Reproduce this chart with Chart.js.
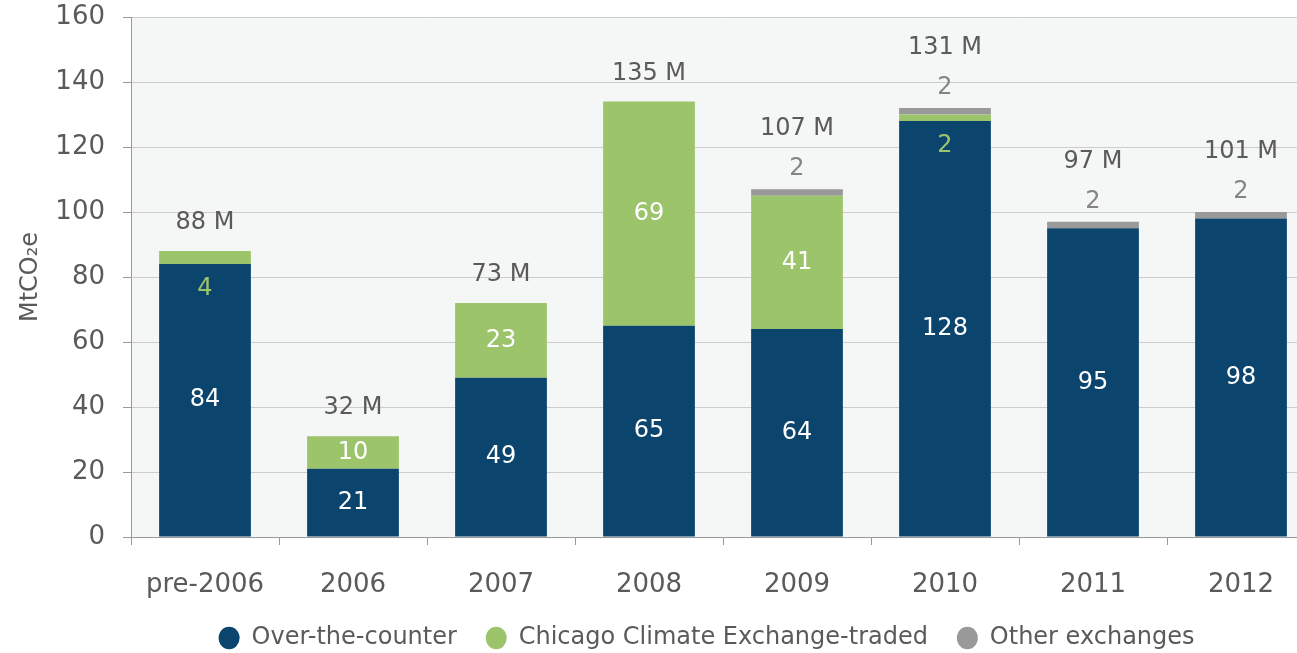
<!DOCTYPE html>
<html>
<head>
<meta charset="utf-8">
<script src="https://cdn.jsdelivr.net/npm/chart.js@4.4.0/dist/chart.umd.min.js"></script>
<style>
  html, body { margin: 0; padding: 0; background: #fff; overflow: hidden; }
  #wrap { width: 1297px; height: 653px; overflow: hidden; }
</style>
</head>
<body>
<div id="wrap"><canvas id="barChart" width="1315" height="653"></canvas></div>
<script>
"use strict";
// values
const categories = ["pre-2006", "2006", "2007", "2008", "2009", "2010", "2011", "2012"];
const overTheCounter = [84, 21, 49, 65, 64, 128, 95, 98];
const chicagoExchange = [4, 10, 23, 69, 41, 2, 0, 0];
const otherExchanges = [0, 0, 0, 0, 2, 2, 2, 2];
const totalLabels = ["88 M", "32 M", "73 M", "135 M", "107 M", "131 M", "97 M", "101 M"];
const yTicks = [0, 20, 40, 60, 80, 100, 120, 140, 160];

const BLUE = "#0b456d";
const GREEN = "#9cc46a";
const GREY = "#999999";
const TEXT = "#5a5a5a";
const FONT = "'DejaVu Sans', sans-serif";

// light grey plot background
const plotBg = {
  id: "plotBg",
  beforeDraw(chart) {
    const { ctx, chartArea: a } = chart;
    ctx.save();
    ctx.fillStyle = "#f5f6f6";
    ctx.fillRect(a.left, a.top, a.right - a.left, a.bottom - a.top);
    ctx.restore();
  },
};

// segment values and totals
const barLabels = {
  id: "barLabels",
  afterDatasetsDraw(chart) {
    const { ctx } = chart;
    const m0 = chart.getDatasetMeta(0).data;
    const m1 = chart.getDatasetMeta(1).data;
    const m2 = chart.getDatasetMeta(2).data;
    ctx.save();
    ctx.textAlign = "center";
    ctx.textBaseline = "middle";
    ctx.font = "24px " + FONT;
    categories.forEach((c, i) => {
      const x = m0[i].x;
      // over-the-counter
      ctx.fillStyle = "#ffffff";
      ctx.fillText(String(overTheCounter[i]), x, (m0[i].y + m0[i].base) / 2);
      // chicago
      if (chicagoExchange[i] > 0) {
        if (chicagoExchange[i] >= 10) {
          ctx.fillStyle = "#ffffff";
          ctx.fillText(String(chicagoExchange[i]), x, (m1[i].y + m1[i].base) / 2);
        } else {
          ctx.fillStyle = GREEN;
          ctx.fillText(String(chicagoExchange[i]), x, m0[i].y + 25);
        }
      }
      // other + total
      const top = Math.min(m0[i].y, m1[i].y, m2[i].y);
      if (otherExchanges[i] > 0) {
        ctx.fillStyle = "#858585";
        ctx.fillText(String(otherExchanges[i]), x, top - 20);
        ctx.fillStyle = TEXT;
        ctx.fillText(totalLabels[i], x, top - 60);
      } else {
        ctx.fillStyle = TEXT;
        ctx.fillText(totalLabels[i], x, top - 28);
      }
    });
    ctx.restore();
  },
};

// trailing spaces give the gaps between legend entries
const legendText = [
  "Over-the-counter   ",
  "Chicago Climate Exchange-traded   ",
  "Other exchanges               ",
];

const container = document.getElementById("barChart");
new Chart(container, {
  type: "bar",
  data: {
    labels: categories,
    datasets: [
      { label: "Over-the-counter", data: overTheCounter, backgroundColor: BLUE },
      { label: "Chicago Climate Exchange-traded", data: chicagoExchange, backgroundColor: GREEN },
      { label: "Other exchanges", data: otherExchanges, backgroundColor: GREY },
    ],
  },
  options: {
    responsive: false,
    animation: false,
    devicePixelRatio: 1,
    categoryPercentage: 1,
    barPercentage: 0.62,
    layout: { padding: { top: 17, right: 0, left: 0, bottom: -7 } },
    plugins: {
      tooltip: { enabled: false },
      legend: {
        position: "bottom",
        align: "end",
        labels: {
          usePointStyle: true,
          pointStyle: "circle",
          pointStyleWidth: 21,
          boxHeight: 16,
          padding: 6,
          color: TEXT,
          font: { family: FONT, size: 24 },
          generateLabels(chart) {
            const items = Chart.defaults.plugins.legend.labels.generateLabels(chart);
            items.forEach((it, i) => { it.text = legendText[i]; });
            return items;
          },
        },
      },
    },
    scales: {
      x: {
        stacked: true,
        grid: { offset: true, drawOnChartArea: false, color: "#999", tickLength: 8 },
        border: { color: "#999" },
        ticks: { color: TEXT, font: { family: FONT, size: 26 }, padding: 25 },
        afterFit(axis) { axis.height = 83; },
      },
      y: {
        stacked: true,
        min: 0,
        max: 160,
        afterBuildTicks(axis) {
          axis.ticks = yTicks.map((v) => ({ value: v }));
        },
        afterFit(axis) {
          axis.width = 131;
          axis.paddingTop = 0;
          axis.paddingBottom = 0;
        },
        grid: { color: "#cccccc", tickLength: 8, tickColor: "#999" },
        border: { color: "#999" },
        ticks: { color: TEXT, font: { family: FONT, size: 26 }, padding: 18 },
        title: {
          display: true,
          text: "MtCO₂e",
          color: TEXT,
          font: { family: FONT, size: 24 },
          padding: { top: 16, bottom: 0 },
        },
      },
    },
  },
  plugins: [plotBg, barLabels],
});
</script>
</body>
</html>
